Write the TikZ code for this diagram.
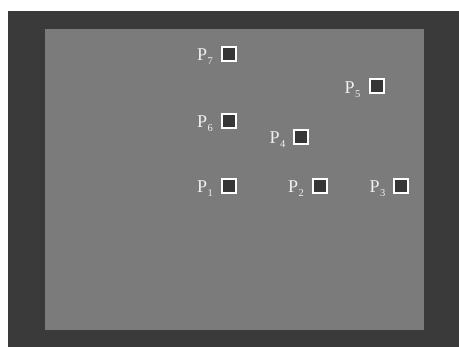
\documentclass[tikz,border=0pt]{standalone}
\usepackage{fontspec}
\setmainfont{Liberation Serif}
\definecolor{outerbg}{HTML}{3A3A3A}
\definecolor{innerbg}{HTML}{7B7B7B}
\definecolor{sqfill}{HTML}{363636}
\definecolor{labelcol}{HTML}{F0F0F0}
\newcommand{\plabel}[1]{P\kern0.5pt\raisebox{-4pt}{\fontsize{10.5}{10.5}\selectfont #1}}
\begin{document}
\begin{tikzpicture}[x=1pt,y=-1pt,
  probe/.style={draw=white, line width=2pt, fill=sqfill, minimum size=14pt, inner sep=0pt},
  lbl/.style={text=labelcol, font=\fontsize{18}{18}\selectfont, inner sep=0pt, anchor=base west}]
\useasboundingbox (0,0) rectangle (459,347);
\fill[white] (0,0) rectangle (459,347);
\fill[outerbg] (8,11) rectangle (459,347);
\fill[innerbg] (45,29) rectangle (424,330);
% probes
\node[probe] (s7) at (229,54) {};
\node[probe] (s6) at (229,121) {};
\node[probe] (s1) at (229,186) {};
\node[probe] (s4) at (300.5,137) {};
\node[probe] (s2) at (320,186) {};
\node[probe] (s5) at (377,86.5) {};
\node[probe] (s3) at (400.5,186) {};
% labels
\node[lbl] (l7) at (197,61) {\plabel{7}};
\node[lbl] (l6) at (197,128) {\plabel{6}};
\node[lbl] (l1) at (197,193) {\plabel{1}};
\node[lbl] (l4) at (269.5,144) {\plabel{4}};
\node[lbl] (l2) at (288,193) {\plabel{2}};
\node[lbl] (l5) at (344.5,93.5) {\plabel{5}};
\node[lbl] (l3) at (369.5,193) {\plabel{3}};
\end{tikzpicture}
\end{document}
